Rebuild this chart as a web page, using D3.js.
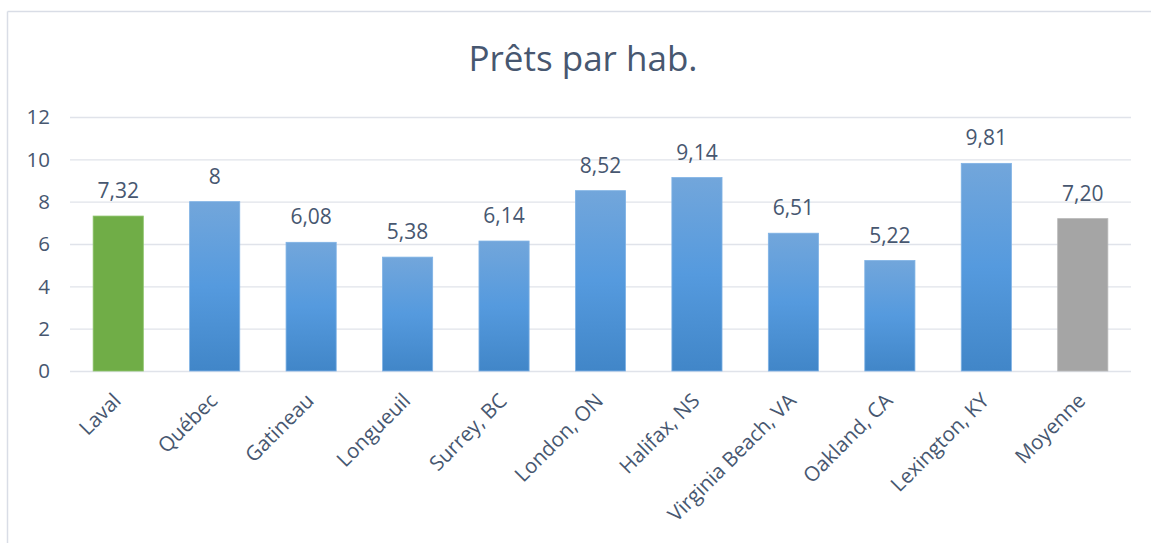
<!DOCTYPE html>
<html><head><meta charset="utf-8">
<script src="https://cdn.jsdelivr.net/npm/d3@7"></script>
<style>
html,body{margin:0;padding:0;background:#fff;}
svg{display:block;font-family:"Open Sans","Noto Sans",sans-serif;}
</style></head>
<body>
<svg id="c" width="1151" height="543"></svg>
<script>
const categories = ["Laval","Québec","Gatineau","Longueuil","Surrey, BC","London, ON","Halifax, NS","Virginia Beach, VA","Oakland, CA","Lexington, KY","Moyenne"];
const values = [7.32, 8, 6.08, 5.38, 6.14, 8.52, 9.14, 6.51, 5.22, 9.81, 7.20];
const valueLabels = ["7,32","8","6,08","5,38","6,14","8,52","9,14","6,51","5,22","9,81","7,20"];
const barKinds = ["green","blue","blue","blue","blue","blue","blue","blue","blue","blue","gray"];
const yTicks = [0,2,4,6,8,10,12];
const title = "Prêts par hab.";

(function(){
const svg = d3.select("#c");
const textColor = "#475770";
const gridColor = "#e0e3ea";

const defs = svg.append("defs");
const g1 = defs.append("linearGradient").attr("id","blueGrad").attr("x1",0).attr("y1",0).attr("x2",0).attr("y2",1);
g1.append("stop").attr("offset","0%").attr("stop-color","#72a6db");
g1.append("stop").attr("offset","50%").attr("stop-color","#559ade");
g1.append("stop").attr("offset","100%").attr("stop-color","#4186c8");

// outer frame
svg.append("line").attr("x1",7.5).attr("x2",1151).attr("y1",11.5).attr("y2",11.5).attr("stroke","#d9dde6").attr("stroke-width",1.5);
svg.append("line").attr("x1",7.5).attr("x2",7.5).attr("y1",11.5).attr("y2",543).attr("stroke","#d9dde6").attr("stroke-width",1.5);

const pLeft = 70, pRight = 1131, pTop = 117, pBottom = 371;
const x = d3.scaleBand().domain(categories).range([pLeft,pRight]).paddingInner(0.48).paddingOuter(0.24);
const y = d3.scaleLinear().domain([0,12]).range([pBottom,pTop]);

svg.append("text").attr("x",583).attr("y",71).attr("text-anchor","middle")
  .attr("font-size",35).attr("fill",textColor).text(title);

// grid
svg.append("g").selectAll("line").data(yTicks).join("line")
  .attr("x1",pLeft).attr("x2",pRight).attr("y1",d=>y(d)+0.5).attr("y2",d=>y(d)+0.5)
  .attr("stroke",gridColor).attr("stroke-width",1.3);

// y tick labels
svg.append("g").selectAll("text").data(yTicks).join("text")
  .attr("x",50).attr("y",d=>y(d)).attr("dy","0.36em").attr("text-anchor","end")
  .attr("font-size",20.5).attr("fill",textColor).text(d=>d);

const fills = {green:"#70ad47", blue:"url(#blueGrad)", gray:"#a5a5a5"};
const strokes = {green:"#8cc36a", blue:"#7fb2e5", gray:"#b8b8b8"};
svg.append("g").selectAll("rect").data(categories).join("rect")
  .attr("x",d=>x(d)).attr("width",x.bandwidth())
  .attr("y",(d,i)=>y(values[i])).attr("height",(d,i)=>y(0)-y(values[i]))
  .attr("fill",(d,i)=>fills[barKinds[i]])
  .attr("stroke",(d,i)=>strokes[barKinds[i]]).attr("stroke-width",0.8);

// value labels
svg.append("g").selectAll("text").data(categories).join("text")
  .attr("x",d=>x(d)+x.bandwidth()/2).attr("y",(d,i)=>y(values[i])-18)
  .attr("text-anchor","middle").attr("font-size",21).attr("fill",textColor)
  .text((d,i)=>valueLabels[i]);

// category labels
svg.append("g").selectAll("text").data(categories).join("text")
  .attr("text-anchor","end").attr("font-size",20.5).attr("fill",textColor)
  .attr("transform",d=>`translate(${x(d)+x.bandwidth()/2+4},${pBottom+31}) rotate(-45)`)
  .text(d=>d);
})();
</script>
</body></html>
